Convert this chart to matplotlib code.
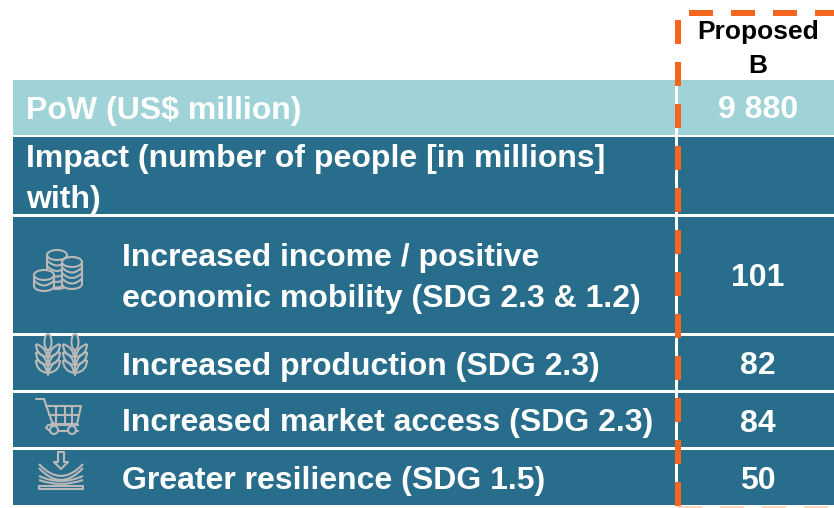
import numpy as np
import matplotlib
matplotlib.use("Agg")
import matplotlib.pyplot as plt
from matplotlib.patches import Rectangle, Ellipse, PathPatch
from matplotlib.path import Path

plt.rcParams["font.family"] = ["Liberation Sans", "DejaVu Sans"]

# Table content
column_title = "Proposed\nB"
pow_label = "PoW (US$ million)"
pow_value = "9 880"
impact_label = "Impact (number of people [in millions]\nwith)"
row_labels = [
    "Increased income / positive\neconomic mobility (SDG 2.3 & 1.2)",
    "Increased production (SDG 2.3)",
    "Increased market access (SDG 2.3)",
    "Greater resilience (SDG 1.5)",
]
row_values = [101, 82, 84, 50]

LIGHT = "#a0d3d7"
DARK = "#286d8b"
ORANGE = "#f4661e"
ICON = "#b9b9b9"
FS = 23

fig = plt.figure(figsize=(8.34, 5.08), dpi=100)
ax = fig.add_axes([0, 0, 1, 1])
ax.set_xlim(0, 834)
ax.set_ylim(508, 0)
ax.axis("off")


def band(top, bottom, color):
    ax.add_patch(Rectangle((13, top), 821, bottom - top, fc=color, ec="none", zorder=1))


def curve(pts, lw=1.5, z=3):
    codes = [Path.MOVETO] + [Path.CURVE3] * (len(pts) - 1)
    ax.add_patch(PathPatch(Path(pts, codes), fc="none", ec=ICON, lw=lw, zorder=z))


def line(xs, ys, lw=1.5, z=3):
    ax.plot(xs, ys, color=ICON, lw=lw, zorder=z, solid_capstyle="round")


def coin_stack(cx, top, bottom, z, rx=10, ry=5):
    # fill first so that stacks in front hide the ones behind
    ax.add_patch(Ellipse((cx, bottom), 2 * rx, 2 * ry, fc=DARK, ec=ICON, lw=1.5, zorder=z))
    ax.add_patch(Rectangle((cx - rx, top), 2 * rx, bottom - top, fc=DARK, ec="none", zorder=z))
    for y in np.arange(top + 5.5, bottom, 5.5):
        curve([(cx - rx, y), (cx, y + 2 * ry), (cx + rx, y)], z=z)
    line([cx - rx, cx - rx], [top, bottom], z=z)
    line([cx + rx, cx + rx], [top, bottom], z=z)
    ax.add_patch(Ellipse((cx, top), 2 * rx, 2 * ry, fc=DARK, ec=ICON, lw=1.5, zorder=z))


def coins():
    coin_stack(57, 255, 284, 3)
    coin_stack(72, 262, 284, 3.1)
    coin_stack(44, 275, 286, 3.2)


def wheat(cx):
    line([cx, cx], [350, 375])
    ax.add_patch(Ellipse((cx, 342), 7, 16, fc=DARK, ec=ICON, lw=1.5, zorder=3))
    for y in [351, 359, 367]:
        for s in [-1, 1]:
            curve([(cx + s, y + 6), (cx + s * 12, y + 4), (cx + s * 12, y - 7)])
            curve([(cx + s, y + 6), (cx + s * 2, y - 4), (cx + s * 12, y - 7)])


def cart():
    line([36, 44, 52, 55], [399, 399, 422, 424])
    line([46, 81, 77, 51], [406, 406, 424, 424])
    line([49, 79], [415, 415])
    for x in [56, 65, 72]:
        line([x, x], [406, 424])
    line([78, 50, 46, 48, 78], [431, 431, 428, 425, 425])
    for x in [54, 72]:
        ax.add_patch(Ellipse((x, 430), 8, 8, fc=DARK, ec=ICON, lw=1.5, zorder=4))


def resilience():
    # down arrow
    line([58, 58, 54, 61, 68, 64, 64, 58],
         [452, 462, 462, 469, 462, 462, 452, 452])
    # pressed layers
    curve([(39, 464), (61, 488), (83, 464)])
    curve([(39, 468), (61, 492), (83, 468)])
    curve([(39, 476), (61, 486), (83, 476)])
    curve([(39, 480), (61, 488), (83, 480)])
    line([39, 83, 83, 39, 39], [486, 486, 489, 489, 486])


# Bands
row_edges = [(217, 333), (336, 390), (393, 447), (450, 505)]
band(80, 135, LIGHT)
band(137, 214, DARK)
for top, bottom in row_edges:
    band(top, bottom, DARK)

# Column separator
ax.add_patch(Rectangle((675.5, 80), 3, 425, fc="white", ec="none", zorder=2))

# Dashed highlight frame
for y in np.arange(20, 500, 42):
    ax.add_patch(Rectangle((675.5, y), 6, min(24, 505.5 - y), fc=ORANGE, ec="none", zorder=5))
for x in np.arange(689, 834, 42):
    ax.add_patch(Rectangle((x, 10), min(24, 834 - x), 6, fc=ORANGE, ec="none", zorder=5))
for x in np.arange(678, 834, 42):
    ax.add_patch(Rectangle((x, 506), min(24, 834 - x), 2, fc="#fbd3bd", ec="none", zorder=5))

# Text
txt = dict(fontsize=FS, fontweight="bold", color="white", zorder=6)
ax.text(758, 49, column_title, ha="center", va="center", fontsize=19, fontweight="bold",
        color="black", linespacing=1.5, zorder=6)
ax.text(26, 110.5, pow_label, ha="left", va="center", **txt)
ax.text(758, 110.5, pow_value, ha="center", va="center", **txt)
ax.text(26, 179.5, impact_label, ha="left", va="center", linespacing=1.47, **txt)
for (top, bottom), label, value in zip(row_edges, row_labels, row_values):
    mid = (top + bottom) / 2 + 3.5
    ax.text(122, mid, label, ha="left", va="center", linespacing=1.47, **txt)
    ax.text(758, mid, str(value), ha="center", va="center", **txt)

# Icons
coins()
wheat(48)
wheat(75)
cart()
resilience()

fig.savefig("out.png", dpi=100, facecolor="white")
